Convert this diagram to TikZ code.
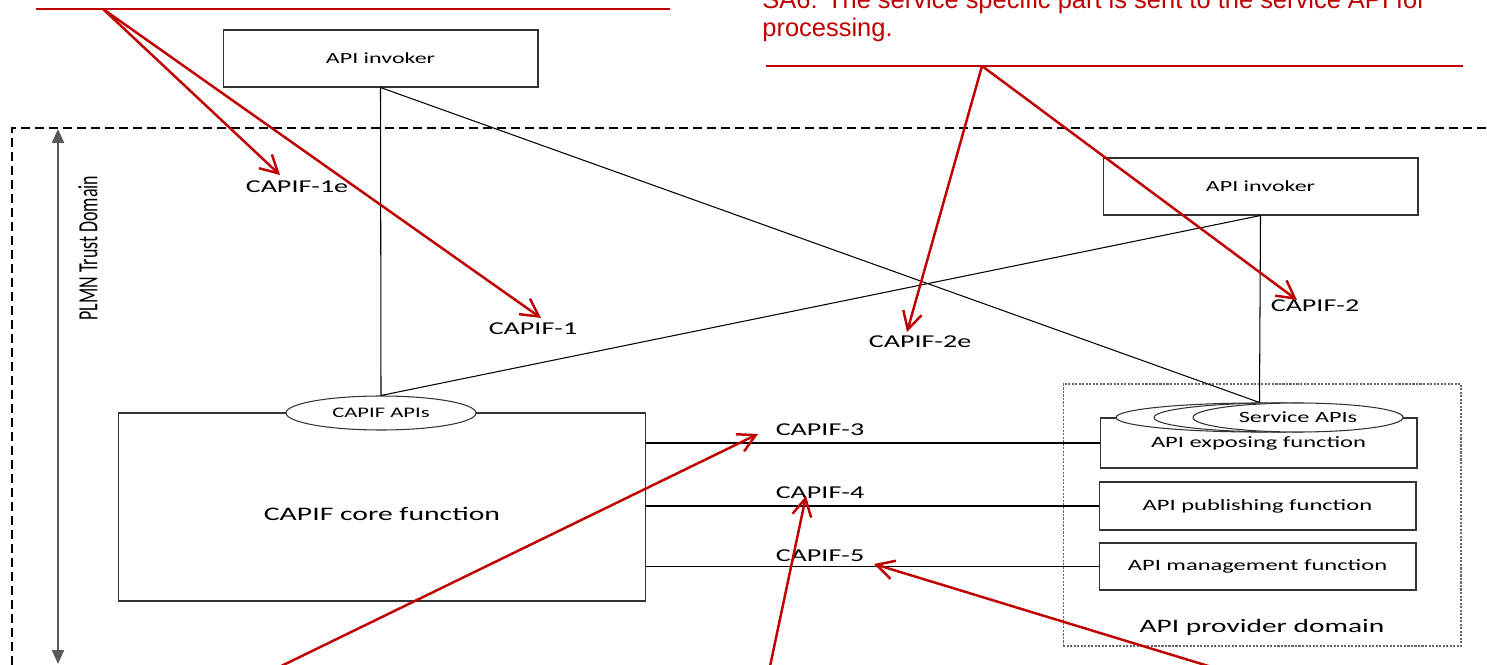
\documentclass[tikz,border=0pt]{standalone}
\usepackage{fontspec}
\setmainfont{Carlito}
\newfontfamily\notefont{Liberation Sans}
\usetikzlibrary{arrows.meta,shapes.geometric,positioning}
\definecolor{notered}{RGB}{192,0,0}
\newcommand{\wide}[1]{\scalebox{1.55}[1]{#1}}
\newcommand{\fs}[1]{\fontsize{#1}{#1}\selectfont}

\begin{document}
\begin{tikzpicture}[x=0.02cm,y=-0.02cm,
  box/.style={draw=black!80,line width=0.6pt,fill=white,inner sep=0pt},
  api/.style={ellipse,draw=black!80,line width=0.6pt,fill=white,inner sep=0pt},
  iface/.style={inner sep=0pt,font=\fs{10.3}},
  link/.style={line width=0.6pt},
  note/.style={draw=notered,line width=1.4pt},
  pointer/.style={note,-{Straight Barb[length=0.35cm,width=0.38cm]}}]
    \useasboundingbox (0,0) rectangle (1487,665);
    \clip (0,0) rectangle (1487,665);

    % trust domain
    \draw[line width=0.6pt,dash pattern=on 0.18cm off 0.1cm] (1500,128) -| (12,680);
    \draw[draw=black!65,line width=1.2pt,{Triangle[length=0.28cm,width=0.24cm]}-{Triangle[length=0.28cm,width=0.24cm]}] (58,129) -- (58,664);
    \node[rotate=90,inner sep=0pt,font=\fs{10.2}] (plmn) at (88,248) {\scalebox{1}[1.55]{PLMN Trust Domain}};

    % API provider domain
    \node[draw=black!60,line width=0.6pt,dash pattern=on 1.2pt off 0.8pt,minimum width=7.96cm,minimum height=5.24cm] (prov) at (1262,515) {};
    \node[inner sep=0pt,font=\fs{10.8}] (provlbl) at (1262,627) {\wide{API provider domain}};

    % invokers and functions
    \node[box,minimum width=6.3cm,minimum height=1.14cm,font=\fs{8.8}] (inv1) at (380.5,58.5) {\wide{API invoker}};
    \node[box,minimum width=6.3cm,minimum height=1.14cm,font=\fs{8.8}] (inv2) at (1260.5,186.5) {\wide{API invoker}};
    \node[box,minimum width=10.56cm,minimum height=3.76cm,
          label={[yshift=-0.14cm,font=\fs{10.9}]center:\wide{CAPIF core function}}] (core) at (382,507) {};
    \node[box,minimum width=6.34cm,minimum height=1.0cm,font=\fs{9}] (expo) at (1258.5,443) {\wide{API exposing function}};
    \node[box,minimum width=6.34cm,minimum height=0.96cm,font=\fs{9}] (pub) at (1257.5,506) {\wide{API publishing function}};
    \node[box,minimum width=6.34cm,minimum height=0.94cm,font=\fs{9}] (mgmt) at (1257.5,566.5) {\wide{API management function}};

    % API ellipses
    \node[api,minimum width=3.8cm,minimum height=0.68cm,font=\fs{8.3}] (capis) at (381,413) {\wide{CAPIF APIs}};
    \node[api,minimum width=5.74cm,minimum height=0.58cm] (svc1) at (1259.5,417.5) {};
    \node[api,minimum width=4.98cm,minimum height=0.58cm] (svc2) at (1278.5,417.5) {};
    \node[api,minimum width=4.2cm,minimum height=0.58cm,font=\fs{8.9}] (svc3) at (1298,417.5) {\wide{Service APIs}};

    % reference points
    \draw[link] (inv1.south) -- (capis.north);
    \draw[link] (inv1.south) -- (svc1.north);
    \draw[link] (inv2.south) -- (svc1.north);
    \draw[link] (inv2.south) -- (capis.north);
    \draw[link] (core.east |- expo.west) -- (expo.west);
    \draw[link] (core.east |- pub.west) -- (pub.west);
    \draw[link] (core.east |- mgmt.west) -- (mgmt.west);

    \node[iface] (c1e) at (297,186.5) {\wide{CAPIF-1e}};
    \node[iface] (c1) at (533,329) {\wide{CAPIF-1}};
    \node[iface] (c2e) at (920,342) {\wide{CAPIF-2e}};
    \node[iface] (c2) at (1315,306) {\wide{CAPIF-2}};
    \node[iface] (c3) at (820,430) {\wide{CAPIF-3}};
    \node[iface] (c4) at (820,493) {\wide{CAPIF-4}};
    \node[iface] (c5) at (820,556) {\wide{CAPIF-5}};

    % annotations
    \node[anchor=base west,inner sep=0pt,align=left,text=notered,font=\notefont\fontsize{14.5}{16.4}\selectfont] (sa6) at (762,37)
        {SA6: The service specific part is sent to the service API for\\processing.};
    \coordinate (noteA) at (103,9);
    \coordinate (noteB) at (982,66);
    \coordinate (noteC) at (232,690);
    \coordinate (noteD) at (765,690);
    \coordinate (noteE) at (1287,690);
    \coordinate (tip1e) at (280,175);
    \coordinate (tip1) at (541,318);
    \coordinate (tip2e) at (907,332);
    \coordinate (tip2) at (1297,300);
    \coordinate (tip3) at (758,434);
    \coordinate (tip4) at (806,496);
    \coordinate (tip5) at (874,564);
    \draw[note] (36,9) -- (670,9);
    \draw[note] (766,66) -- (1463,66);
    \draw[pointer] (noteA) -- (tip1e);
    \draw[pointer] (noteA) -- (tip1);
    \draw[pointer] (noteB) -- (tip2e);
    \draw[pointer] (noteB) -- (tip2);
    \draw[pointer] (noteC) -- (tip3);
    \draw[pointer] (noteD) -- (tip4);
    \draw[pointer] (noteE) -- (tip5);
\end{tikzpicture}
\end{document}
